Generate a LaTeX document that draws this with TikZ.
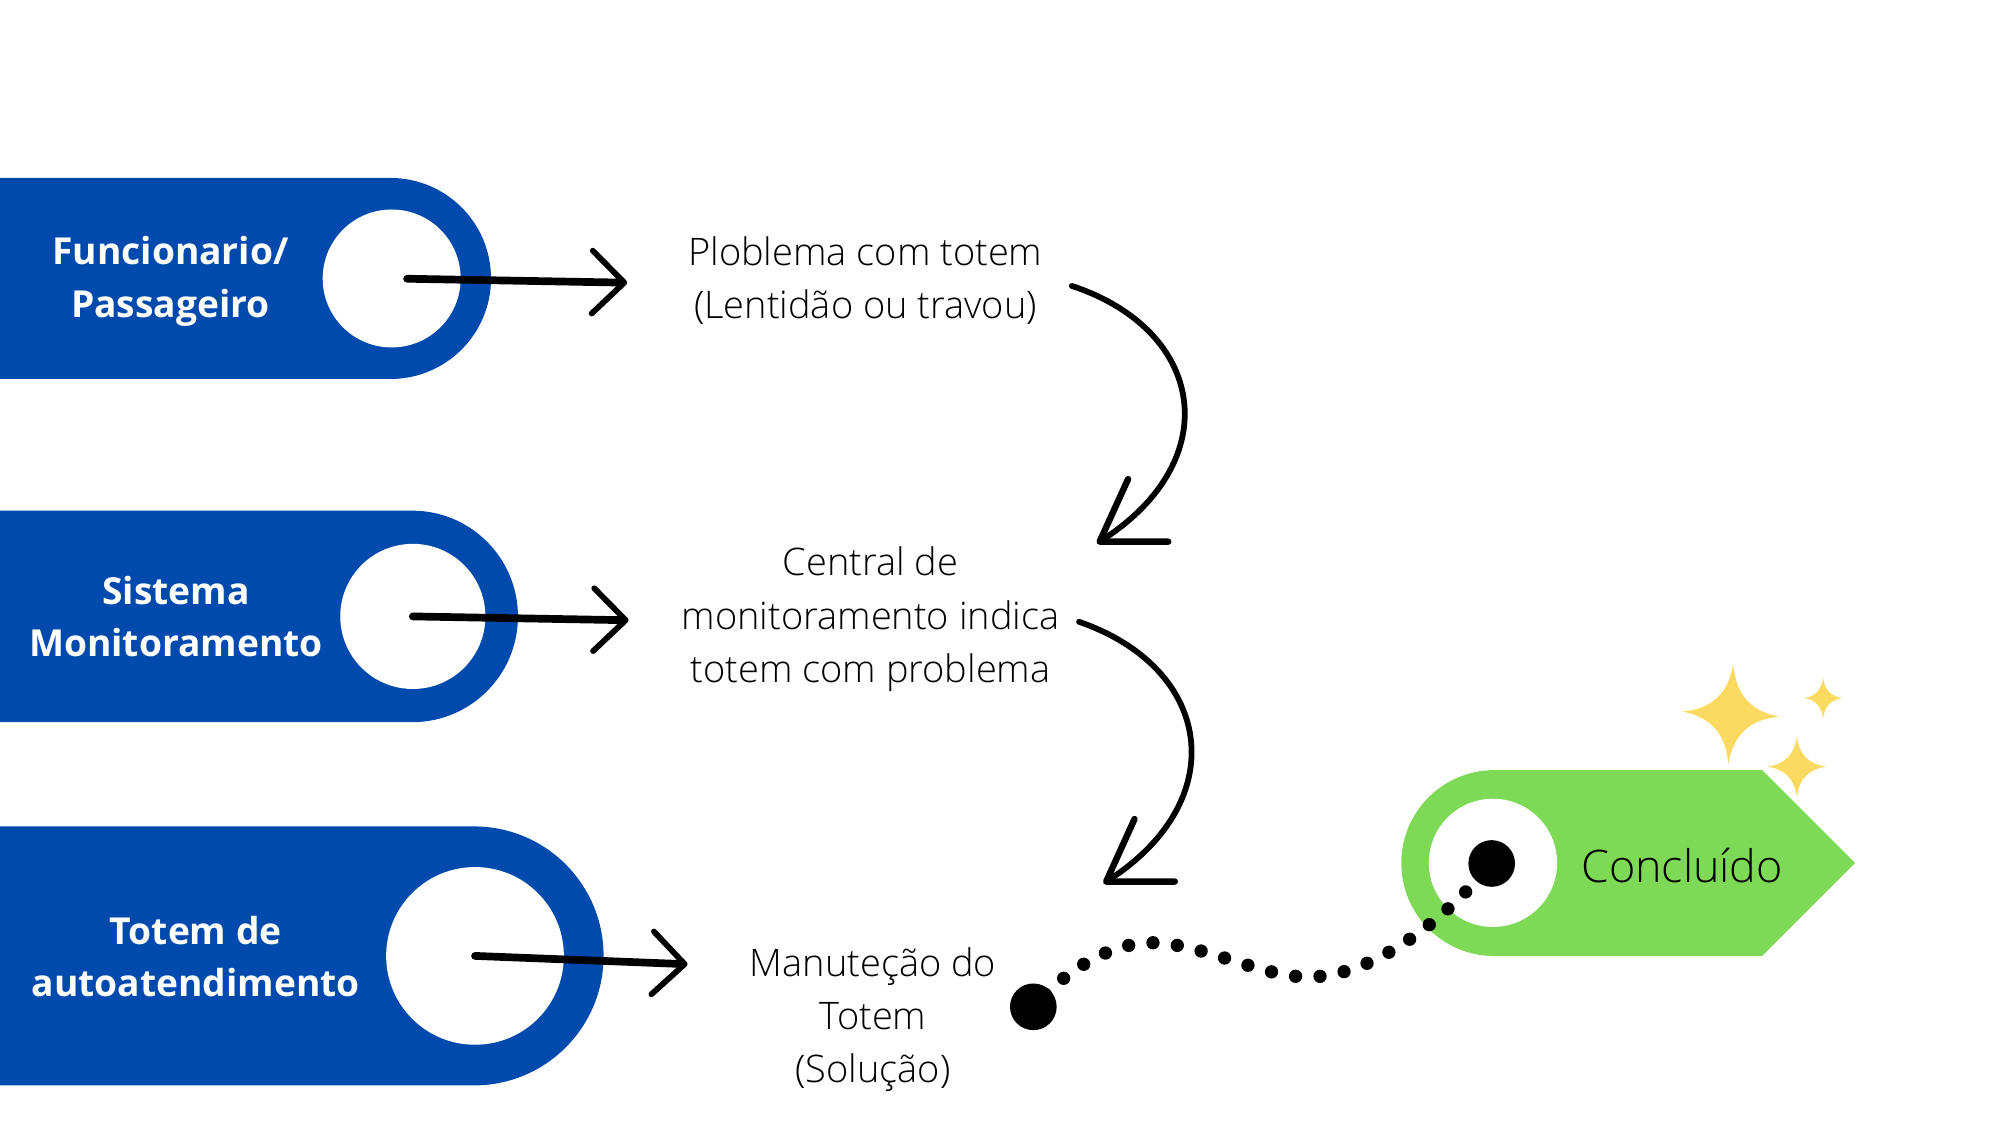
\documentclass[tikz,border=0pt]{standalone}
\usepackage{fontspec}
\setmainfont{Open Sans}
\newfontfamily\lightfont{Open Sans Light}
\usetikzlibrary{shapes.misc, arrows.meta, positioning, calc}
\definecolor{tagblue}{HTML}{004AAD}
\definecolor{taggreen}{HTML}{7ED957}
\definecolor{sparkyellow}{HTML}{FADA61}
\begin{document}
\begin{tikzpicture}
		[x=1pt, y=1pt,
	actorbox/.style={fill=tagblue,shape=rounded rectangle,rounded rectangle left arc=none,inner sep=0pt},
	hole/.style={fill=white,shape=circle,inner sep=0pt},
	actor/.style={text=white,font=\fontsize{29}{41}\selectfont\bfseries,align=center,inner sep=0pt},
	desc/.style={font=\fontsize{29.6}{41.5}\selectfont\lightfont,align=center,inner sep=0pt},
	flow/.style={line width=6pt,line cap=round,-{Straight Barb[round,length=25pt,width=49pt,line width=4.5pt]}},
	curl/.style={line width=4.5pt,line cap=round,-{Straight Barb[round,length=45pt,width=58pt,line width=5pt]}},
	blob/.style={fill,shape=circle,inner sep=0pt},
	trail/.style={line width=10.4pt,line cap=round,dash pattern=on 0pt off 19.1pt,dash phase=5.7pt},
	sparkle/.pic={\fill[sparkyellow] (0,1) .. controls (0.08,0.4) and (0.4,0.08) .. (1,0) .. controls (0.4,-0.08) and (0.08,-0.4) .. (0,-1) .. controls (-0.08,-0.4) and (-0.4,-0.08) .. (-1,0) .. controls (-0.4,0.08) and (-0.08,0.4) .. cycle;}
	]
		\useasboundingbox (0,0) rectangle (1560,-891.5);
		
		\node (box1) [actorbox,minimum width=393pt,minimum height=156.8pt] at (186.5,-217.2) {};
		\node (box2) [actorbox,minimum width=414pt,minimum height=165pt] at (197,-480.8) {};
		\node (box3) [actorbox,minimum width=480.8pt,minimum height=202pt] at (230.4,-745.6) {};
		\node (hole1) [hole,minimum size=107.6pt] at (305.5,-217.2) {};
		\node (hole2) [hole,minimum size=113.2pt] at (322,-480.8) {};
		\node (hole3) [hole,minimum size=138.6pt] at (370.5,-745.6) {};
		\node (who1) [actor] at (133,-219.5) {Funcionario/\\Passageiro};
		\node (who2) [actor] at (137.2,-481) {Sistema\\Monitoramento};
		\node (who3) [actor] at (152.7,-746) {Totem de\\autoatendimento};
		
		\node (prob) [desc] at (675,-219) {Ploblema com totem\\(Lentidão ou travou)};
		\node (cent) [desc] at (679,-483) {Central de\\monitoramento indica\\totem com problema};
		\node (manu) [desc] at (681,-795.5) {Manuteção do\\Totem\\(Solução)};
		
		\coordinate (tip1) at (489.2,-220.5);
		\coordinate (tip2) at (490.3,-483.8);
		\coordinate (tip3) at (536.3,-752.1);
		\draw [flow,shorten <=12pt] (hole1.center) -- (tip1);
		\draw [flow,shorten <=0pt] (hole2.center) -- (tip2);
		\draw [flow,shorten <=0pt] (hole3.center) -- (tip3);
		
		\coordinate (out1) at (836,-223);
		\coordinate (in1) at (855.6,-423.8);
		\coordinate (out2) at (841.6,-485);
		\coordinate (in2) at (860.7,-689);
		\draw [curl] (out1) .. controls (940.7,-257.7) and (956.4,-359) .. (in1);
		\draw [curl] (out2) .. controls (946.3,-521) and (961.5,-624) .. (in2);
		
		\fill [taggreen] (1374.5,-600.6) -- (1447,-673.2) -- (1374.5,-745.7) -- (1165.5,-745.7) arc (270:90:72.5) -- cycle;
		\node (ring) [hole,minimum size=100pt] at (1164.5,-673) {};
		\node (goal) [blob,minimum size=36.4pt] at (1163.5,-673.5) {};
		\node (start) [blob,minimum size=36.4pt] at (806,-785.3) {};
		\node (done) [font=\fontsize{35}{40}\selectfont\lightfont,inner sep=0pt] at (1312,-675) {Concluído};
		\draw [trail] (start.center) .. controls (838,-750) and (872,-735.3) .. (898.4,-735.3) .. controls (935,-735.3) and (985,-762) .. (1019,-762) .. controls (1065,-763) and (1120,-725) .. (goal.center);
		
		\pic [xscale=38,yscale=39,rotate=-3] at (1350,-557) {sparkle};
		\pic [xscale=15,yscale=16] at (1422,-544.5) {sparkle};
		\pic [xscale=23,yscale=23.7] at (1401.5,-598) {sparkle};
	\end{tikzpicture}
\end{document}
